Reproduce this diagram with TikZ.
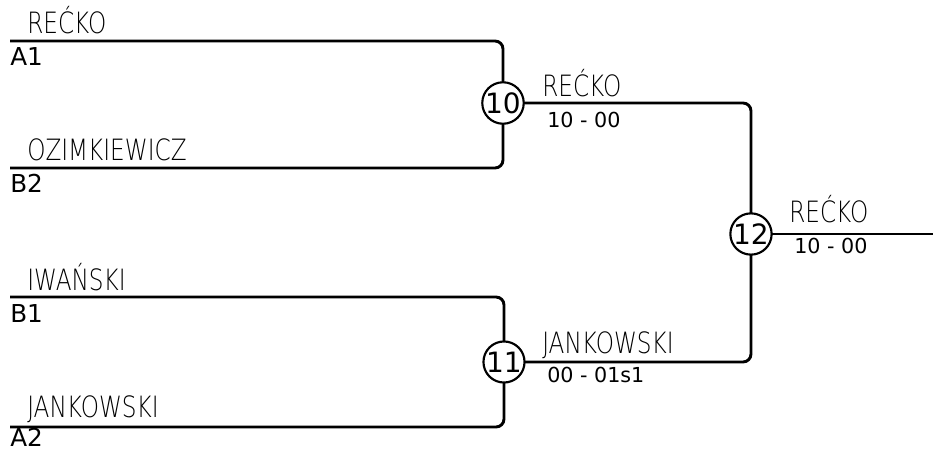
\documentclass[tikz,border=0pt]{standalone}
\usepackage{fontspec}
\setmainfont{DejaVu Sans}
\newfontfamily\namefont[FakeStretch=0.79]{DejaVu Sans ExtraLight}
\begin{document}
\begin{tikzpicture}[x=0.75pt,y=-0.75pt,
  wire/.style={line width=2.2pt,rounded corners=6pt},
  game/.style={circle,draw,line width=1.6pt,fill=white,inner sep=0pt,minimum size=28pt,font=\fontsize{21}{21}\selectfont},
  pname/.style={anchor=base west,inner sep=0pt,font=\namefont\fontsize{22}{22}\selectfont},
  seed/.style={anchor=base west,inner sep=0pt,font=\fontsize{18.5}{19}\selectfont},
  score/.style={anchor=base west,inner sep=0pt,font=\fontsize{15.5}{16}\selectfont}]
\useasboundingbox (0,0) rectangle (933,450);
\coordinate (a1) at (10,41);
\coordinate (b2) at (10,168);
\coordinate (b1) at (10,297);
\coordinate (a2) at (10,427);
\coordinate (out) at (933,234);
\node[game] (c10) at (503,103) {};
\node[game] (c11) at (504,362) {};
\node[game] (c12) at (751,234) {};
\draw[wire] (a1) -| (c10);
\draw[wire] (b2) -| (c10);
\draw[wire] (b1) -| (c11);
\draw[wire] (a2) -| (c11);
\draw[wire] (c10) -| (c12);
\draw[wire] (c11) -| (c12);
\draw[wire] (c12) -- (out);
\node[game] at (c10) {10};
\node[game] at (c11) {11};
\node[game] at (c12) {12};
\node[pname] (n1) at (27,33) {REĆKO};
\node[seed] (s1) at (10,65) {A1};
\node[pname] (n2) at (27,160) {OZIMKIEWICZ};
\node[seed] (s2) at (10,192) {B2};
\node[pname] (n3) at (27,290) {IWAŃSKI};
\node[seed] (s3) at (10,322) {B1};
\node[pname] (n4) at (27,417) {JANKOWSKI};
\node[seed] (s4) at (10,446) {A2};
\node[pname] (w10) at (542,96) {REĆKO};
\node[score] (r10) at (547,127) {10 - 00};
\node[pname] (w11) at (542,353) {JANKOWSKI};
\node[score] (r11) at (547,382) {00 - 01s1};
\node[pname] (w12) at (789,222) {REĆKO};
\node[score] (r12) at (794,253) {10 - 00};
\end{tikzpicture}
\end{document}
